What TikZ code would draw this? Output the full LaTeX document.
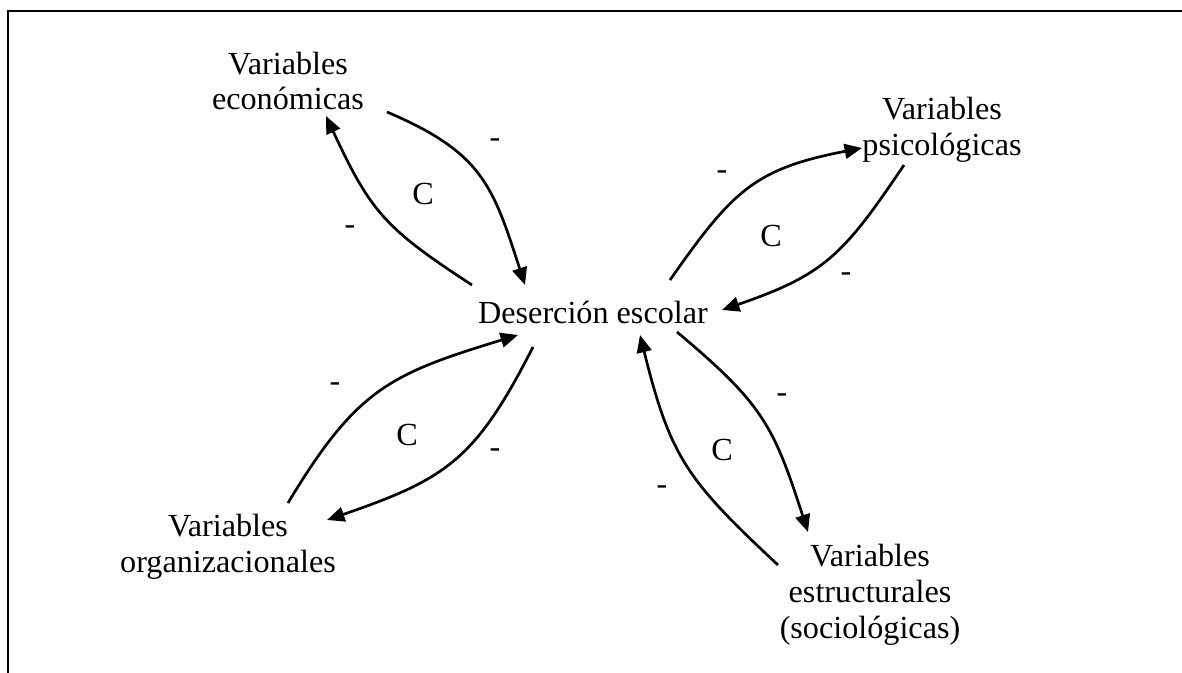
\documentclass[tikz,border=0pt]{standalone}
\usepackage{fontspec}
\setmainfont{Liberation Serif}
\usetikzlibrary{arrows.meta}

\begin{document}
\begin{tikzpicture}[x=0.0131cm, y=0.0131cm,
   var/.style = {align=center, font=\fontsize{12}{13.4}\selectfont},
   lazo/.style = {line width=1pt, looseness=1.2, -{Triangle[length=6.5pt,width=5.5pt]}},
   signo/.style = {font=\fontsize{12}{14}\selectfont}]
   \useasboundingbox (0,0) rectangle (1182,673);
   % marco
   \draw[line width=0.75pt] (8,0) -- (8,662) -- (1182,662);
   % variables
   \node[var] (des) at (593,361) {Deserción escolar};
   \node[var] (eco) at (288,592) {Variables \\ económicas};
   \node[var] (psy) at (942,543) {Variables \\ psicológicas};
   \node[var] (org) at (228,126) {Variables \\ organizacionales};
   \node[var] (est) at (870,78) {Variables \\ estructurales \\ (sociológicas)};
   % lazos
   \draw[lazo] ([shift={(-121,27)}]des.center) to[out=147,in=-65] ([shift={(38,-35)}]eco.center);
   \draw[lazo] ([shift={(99,-31)}]eco.center) to[out=-23,in=108] ([shift={(-68,27)}]des.center);
   \draw[lazo] ([shift={(77,32)}]des.center) to[out=55,in=191] ([shift={(-80,-18)}]psy.center);
   \draw[lazo] ([shift={(-38,-35)}]psy.center) to[out=236,in=19] ([shift={(129,2)}]des.center);
   \draw[lazo] ([shift={(60,44)}]org.center) to[out=59,in=197] ([shift={(-75,-23)}]des.center);
   \draw[lazo] ([shift={(-60,-35)}]des.center) to[out=243,in=19] ([shift={(99,27)}]org.center);
   \draw[lazo] ([shift={(84,-20)}]des.center) to[out=-40,in=108] ([shift={(-62,63)}]est.center);
   \draw[lazo] ([shift={(-92,30)}]est.center) to[out=137,in=-76] ([shift={(47,-23)}]des.center);
   % signos
   \node[signo] (s1) at (495,530) {-};
   \node[signo] (s2) at (350,443) {-};
   \node[signo] (c1) at (423,479) {C};
   \node[signo] (s3) at (722,498) {-};
   \node[signo] (s4) at (846,396) {-};
   \node[signo] (c2) at (771,437) {C};
   \node[signo] (s5) at (335,286) {-};
   \node[signo] (s6) at (495,220) {-};
   \node[signo] (c3) at (407,238) {C};
   \node[signo] (s7) at (782,275) {-};
   \node[signo] (s8) at (662,183) {-};
   \node[signo] (c4) at (722,223) {C};
\end{tikzpicture}
\end{document}
